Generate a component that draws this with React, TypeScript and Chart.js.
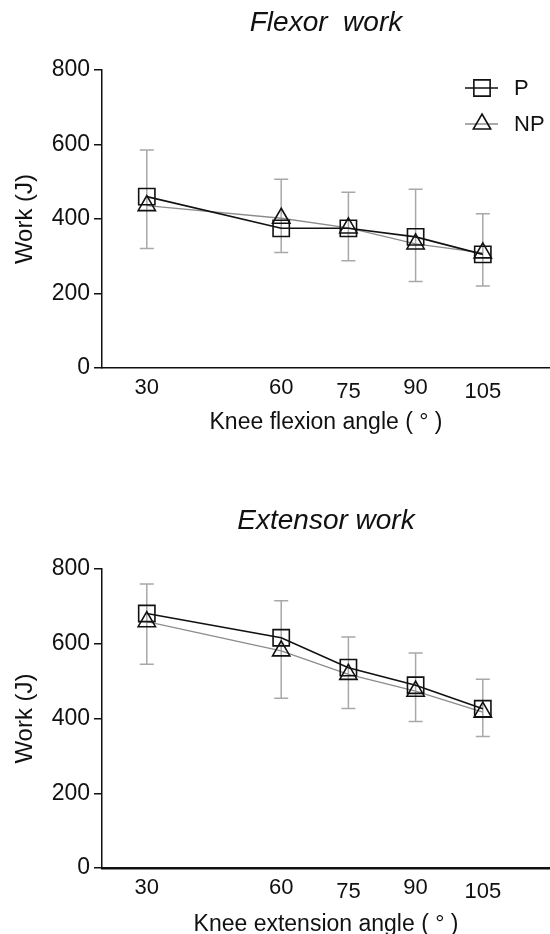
import { useEffect, useRef } from 'react';
import { Chart, registerables, Plugin } from 'chart.js';
import { drawPoint } from 'chart.js/helpers';

Chart.register(...registerables);

const FAMILY = "'Liberation Sans', Arial, sans-serif";
const INK = '#111111';

// knee angles (deg) and axis ticks
const angles = [30, 60, 75, 90, 105];
const loweredTicks = [75, 105];
const workTicks = [0, 200, 400, 600, 800];

// flexor work (J)
const flexorP = [460, 375, 375, 352, 305];
const flexorNP = [436, 402, 376, 333, 309];
const flexorSdP = [125, 132, 97, 128, 109];
const flexorSdNP = [115, 92, 88, 101, 89];

// extensor work (J)
const extensorP = [681, 616, 536, 489, 426];
const extensorNP = [659, 581, 518, 473, 417];
const extensorSdP = [79, 99, 82, 86, 79];
const extensorSdNP = [114, 127, 91, 81, 65];

// one gray bar per angle: from P + sd up to NP - sd down
const errorBars: Plugin = {
  id: 'errorBars',
  beforeDatasetsDraw(chart) {
    const { ctx } = chart;
    const xs = chart.scales.x;
    const ys = chart.scales.y;
    ctx.save();
    ctx.strokeStyle = '#a8a8a8';
    ctx.lineWidth = 1.5;
    angles.forEach((a, i) => {
      let top = -Infinity;
      let bottom = Infinity;
      chart.data.datasets.forEach((ds: any) => {
        const v = ds.data[i].y;
        top = Math.max(top, v + (ds.errUp ? ds.errUp[i] : 0));
        bottom = Math.min(bottom, v - (ds.errDown ? ds.errDown[i] : 0));
      });
      const px = xs.getPixelForValue(a);
      const pt = ys.getPixelForValue(top);
      const pb = ys.getPixelForValue(bottom);
      ctx.beginPath();
      ctx.moveTo(px, pt);
      ctx.lineTo(px, pb);
      ctx.moveTo(px - 7, pt);
      ctx.lineTo(px + 7, pt);
      ctx.moveTo(px - 7, pb);
      ctx.lineTo(px + 7, pb);
      ctx.stroke();
    });
    ctx.restore();
  },
};

// legend with line + marker, inside the plot at top right
const sideLegend: Plugin = {
  id: 'sideLegend',
  afterDraw(chart, _args, opts: any) {
    if (!opts || !opts.display) return;
    const { ctx, chartArea } = chart;
    const x0 = chartArea.right - 85;
    ctx.save();
    chart.data.datasets.forEach((ds: any, i) => {
      const cy = chartArea.top + 18 + i * 36;
      ctx.strokeStyle = ds.borderColor;
      ctx.lineWidth = ds.borderWidth;
      ctx.beginPath();
      ctx.moveTo(x0, cy);
      ctx.lineTo(x0 + 33, cy);
      ctx.stroke();
      ctx.strokeStyle = ds.pointBorderColor;
      ctx.fillStyle = 'rgba(0,0,0,0)';
      ctx.lineWidth = ds.pointBorderWidth;
      drawPoint(ctx, { pointStyle: ds.pointStyle, radius: ds.pointRadius, borderWidth: ds.pointBorderWidth, rotation: 0 } as any, x0 + 17, cy);
      ctx.fillStyle = INK;
      ctx.font = `22px ${FAMILY}`;
      ctx.textBaseline = 'middle';
      ctx.textAlign = 'left';
      ctx.fillText(ds.label, x0 + 49, cy + 1);
    });
    ctx.restore();
  },
};

type Layout = {
  titleTop: number;
  titleBottom: number;
  xAxisHeight: number;
  xTitleLineHeight: number;
  xTitleBottom: number;
  xBorder: number;
};

type Props = {
  title: string;
  xTitle: string;
  p: number[];
  np: number[];
  sdP: number[];
  sdNP: number[];
  layout: Layout;
  legend?: boolean;
};

function WorkChart({ title, xTitle, p, np, sdP, sdNP, layout, legend }: Props) {
  const canvasRef = useRef<HTMLCanvasElement | null>(null);

  useEffect(() => {
    if (!canvasRef.current) return;
    const chart = new Chart(canvasRef.current, {
      type: 'line',
      data: {
        datasets: [
          {
            label: 'P',
            data: angles.map((a, i) => ({ x: a, y: p[i] })),
            borderColor: INK,
            borderWidth: 1.6,
            pointStyle: 'rect',
            pointRadius: 11.5,
            pointBorderColor: INK,
            pointBorderWidth: 1.6,
            pointBackgroundColor: 'rgba(0,0,0,0)',
            errUp: sdP,
          } as any,
          {
            label: 'NP',
            data: angles.map((a, i) => ({ x: a, y: np[i] })),
            borderColor: '#8c8c8c',
            borderWidth: 1.3,
            pointStyle: 'triangle',
            pointRadius: 10,
            pointBorderColor: INK,
            pointBorderWidth: 1.6,
            pointBackgroundColor: 'rgba(0,0,0,0)',
            errDown: sdNP,
          } as any,
        ],
      },
      options: {
        animation: false,
        responsive: true,
        maintainAspectRatio: false,
        layout: { padding: 0, autoPadding: false },
        plugins: {
          legend: { display: false },
          tooltip: { enabled: false },
          title: {
            display: true,
            text: title,
            fullSize: false,
            color: INK,
            font: { family: FAMILY, size: 28, style: 'italic', weight: 'normal' },
            padding: { top: layout.titleTop, bottom: layout.titleBottom },
          },
          sideLegend: { display: !!legend },
        } as any,
        scales: {
          x: {
            type: 'linear',
            min: 20,
            max: 120,
            afterBuildTicks: (s: any) => {
              s.ticks = angles.map((v) => ({ value: v }));
            },
            afterFit: (s: any) => {
              s.height = layout.xAxisHeight;
            },
            grid: { display: false, drawTicks: false },
            border: { color: INK, width: layout.xBorder },
            ticks: {
              color: INK,
              padding: 7,
              maxRotation: 0,
              autoSkip: false,
              font: (c: any) => ({
                family: FAMILY,
                size: 22,
                lineHeight: c.tick && loweredTicks.includes(c.tick.value) ? 1.5 : 1.2,
              }),
            },
            title: {
              display: true,
              text: xTitle,
              color: INK,
              font: { family: FAMILY, size: 23, lineHeight: layout.xTitleLineHeight },
              padding: { top: 0, bottom: layout.xTitleBottom },
            },
          },
          y: {
            min: 0,
            max: 800,
            afterBuildTicks: (s: any) => {
              s.ticks = workTicks.map((v) => ({ value: v }));
            },
            afterFit: (s: any) => {
              s.width = 102;
            },
            grid: { drawOnChartArea: false, drawTicks: true, tickLength: 8, color: INK, lineWidth: 1.5 },
            border: { color: INK, width: 1.5 },
            ticks: { color: INK, padding: 4, font: { family: FAMILY, size: 23 } },
            title: {
              display: true,
              text: 'Work (J)',
              color: INK,
              font: { family: FAMILY, size: 24 },
              padding: { top: 11, bottom: 0 },
            },
          },
        },
      },
      plugins: [errorBars, sideLegend],
    });
    return () => chart.destroy();
  }, [title, xTitle, p, np, sdP, sdNP, layout, legend]);

  return (
    <div style={{ position: 'relative', width: 550, height: 467 }}>
      <canvas ref={canvasRef} />
    </div>
  );
}

const topLayout: Layout = {
  titleTop: 6.2,
  titleBottom: 30.2,
  xAxisHeight: 99,
  xTitleLineHeight: 1.2,
  xTitleBottom: 30.2,
  xBorder: 1.5,
};

const bottomLayout: Layout = {
  titleTop: 37.7,
  titleBottom: 30.7,
  xAxisHeight: 66,
  xTitleLineHeight: 0.8,
  xTitleBottom: 0,
  xBorder: 2.5,
};

export default function App() {
  return (
    <div style={{ position: 'absolute', left: 0, top: 0, width: 550, height: 934, background: '#fff' }}>
      <WorkChart
        title="Flexor  work"
        xTitle="Knee flexion angle ( ° )"
        p={flexorP}
        np={flexorNP}
        sdP={flexorSdP}
        sdNP={flexorSdNP}
        layout={topLayout}
        legend
      />
      <WorkChart
        title="Extensor work"
        xTitle="Knee extension angle ( ° )"
        p={extensorP}
        np={extensorNP}
        sdP={extensorSdP}
        sdNP={extensorSdNP}
        layout={bottomLayout}
      />
    </div>
  );
}
